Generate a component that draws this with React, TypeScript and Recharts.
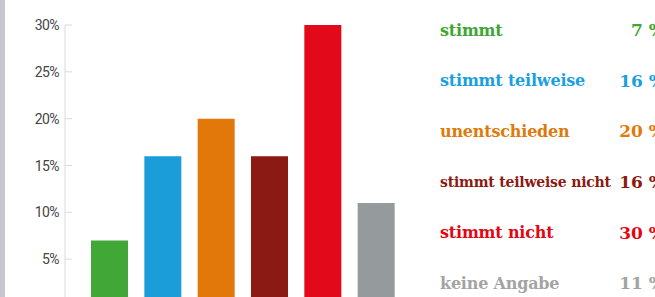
import React from "react"
import { BarChart, Bar, XAxis, YAxis, Cell } from "recharts"

const answers = ["stimmt", "stimmt teilweise", "unentschieden", "stimmt teilweise nicht", "stimmt nicht", "keine Angabe"]
const shares = [7, 16, 20, 16, 30, 11]
const barColors = ["#41a838", "#1b9dd9", "#e2780a", "#8b1a14", "#e20a1a", "#959a9d"]
const labelColors = ["#3fa535", "#1aa0e0", "#e07a0b", "#8b1a12", "#e30613", "#a3a3a3"]
const yTicks = [0, 5, 10, 15, 20, 25, 30]

const data = answers.map((name, i) => ({ name, value: shares[i] }))

function PercentTick(props: any) {
    const { x, y, payload } = props
    if (payload.value === 0) return null
    return (
        <g>
            <line x1={x + 6} x2={x + 13} y1={y} y2={y} stroke="#d9d9d9" strokeWidth={1} />
            <text x={x} y={y} dy={5} textAnchor="end" fill="#444" fontSize={14} fontFamily="Roboto" letterSpacing={-0.6}>
                {payload.value}%
            </text>
        </g>
    )
}

export default function App() {
    return (
        <div style={{ position: "absolute", left: 0, top: 0, width: 655, height: 297, overflow: "hidden", background: "#fff" }}>
            <div style={{ position: "absolute", left: 0, top: 0, width: 5, height: 297, background: "#c6c6cc" }} />
            <BarChart width={410} height={306} data={data} margin={{ top: 25, right: 7, bottom: 0, left: 0 }} barSize={37}>
                <XAxis dataKey="name" hide padding={{ left: 18, right: 0 }} />
                <YAxis
                    width={65}
                    domain={[0, 30]}
                    ticks={yTicks}
                    interval={0}
                    tickSize={6}
                    tickMargin={0}
                    tickLine={false}
                    axisLine={{ stroke: "#d9d9d9" }}
                    tick={<PercentTick />}
                />
                <Bar dataKey="value" isAnimationActive={false}>
                    {data.map((d, i) => (
                        <Cell key={d.name} fill={barColors[i]} />
                    ))}
                </Bar>
            </BarChart>
            <div style={{ position: "absolute", left: 440, top: 5, width: 225, fontFamily: "DejaVu Serif", fontWeight: "bold" }}>
                {answers.map((a, i) => (
                    <div key={a} style={{ height: 50.6, display: "flex", alignItems: "center", justifyContent: "space-between", color: labelColors[i] }}>
                        <span style={{ fontSize: a.length > 18 ? 14 : 16, letterSpacing: -0.2 }}>{a}</span>
                        <span style={{ fontSize: 17 }}>{shares[i]} %</span>
                    </div>
                ))}
            </div>
        </div>
    )
}
